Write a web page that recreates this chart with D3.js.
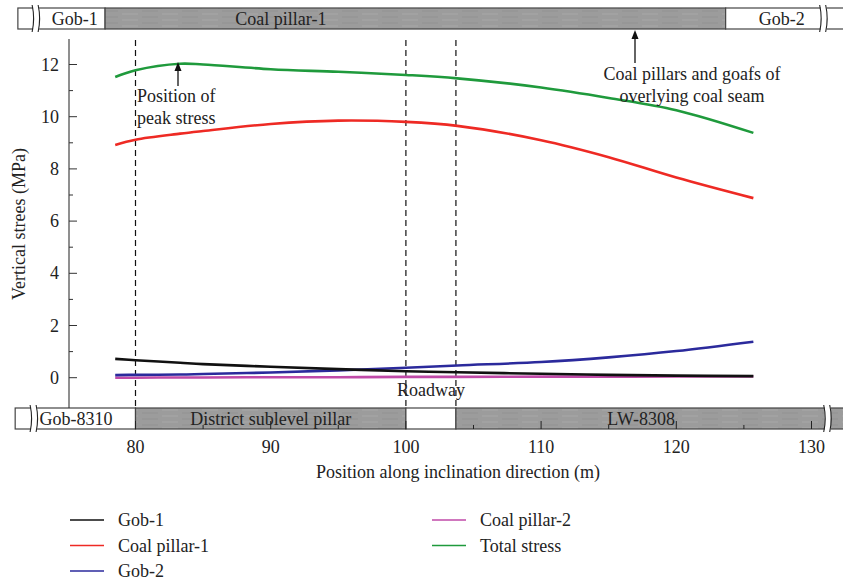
<!DOCTYPE html>
<html>
<head>
<meta charset="utf-8">
<script src="https://cdn.jsdelivr.net/npm/d3@7"></script>
<style>
  body { margin: 0; background: #fff; }
  text { font-family: "Liberation Serif", "DejaVu Serif", serif; fill: #222; }
</style>
</head>
<body>
<div id="chart"></div>
<script>
// positions along inclination direction (m)
const positions = [78.5, 80, 83.3, 85, 90, 95, 100, 103.8, 110, 115, 120, 125.7];

const gob1        = [0.72, 0.67, 0.57, 0.52, 0.42, 0.33, 0.25, 0.21, 0.15, 0.11, 0.08, 0.06];
const coalPillar1 = [8.92, 9.12, 9.35, 9.45, 9.72, 9.85, 9.8, 9.65, 9.1, 8.45, 7.67, 6.88];
const gob2        = [0.10, 0.11, 0.12, 0.14, 0.20, 0.28, 0.38, 0.47, 0.60, 0.78, 1.02, 1.38];
const coalPillar2 = [0.00, 0.00, 0.01, 0.01, 0.02, 0.02, 0.03, 0.03, 0.04, 0.04, 0.05, 0.05];
const totalStress = [11.52, 11.78, 12.03, 12.0, 11.82, 11.72, 11.6, 11.47, 11.12, 10.72, 10.25, 9.38];

const seriesNames = ["Gob-1", "Coal pillar-1", "Gob-2", "Coal pillar-2", "Total stress"];
const seriesColors = ["#111111", "#ee2a24", "#2b2a9c", "#c04aa8", "#1f9a3c"];
const seriesValues = [gob1, coalPillar1, gob2, coalPillar2, totalStress];

const yTicks = [0, 2, 4, 6, 8, 10, 12];
const xTicks = [80, 90, 100, 110, 120, 130];

// strips: [from m, to m, fill]
const topBlocks = [[71.3, 77.75, "white"], [77.75, 123.65, "gray"], [123.65, 132.8, "white"]];
const bottomBlocks = [[71.1, 80, "white"], [80, 100, "gray"], [100, 103.7, "white"], [103.7, 132.8, "gray"]];
// strip labels: [text, position m, anchor]
const topLabels = [["Gob-1", 75.5, "middle"], ["Coal pillar-1", 90.75, "middle"], ["Gob-2", 127.8, "middle"]];
const bottomLabels = [["Gob-8310", 72.9, "start"], ["District sublevel pillar", 90, "middle"], ["LW-8308", 117.4, "middle"]];
const topBreaks = [72.65, 130.9];
const bottomBreaks = [72.5, 131.2];
const dashedAt = [80, 100, 103.7];

const W = 843, H = 584;
const svg = d3.select("#chart").append("svg").attr("width", W).attr("height", H);

const x = d3.scaleLinear().domain([80, 130]).range([135.5, 811.5]);
const y = d3.scaleLinear().domain([0, 12]).range([377.7, 64.5]);
const axisX0 = 69;
const fs = 18;

// texture for grey pillar blocks
const defs = svg.append("defs");
const pat = defs.append("pattern").attr("id", "coal").attr("patternUnits", "userSpaceOnUse")
  .attr("width", 40).attr("height", 6);
pat.append("rect").attr("width", 40).attr("height", 6).attr("fill", "#9c9c9c");
pat.append("line").attr("x1", 2).attr("x2", 18).attr("y1", 2).attr("y2", 2).attr("stroke", "#a8a8a8").attr("stroke-width", 1);
pat.append("line").attr("x1", 22).attr("x2", 38).attr("y1", 5).attr("y2", 5).attr("stroke", "#939393").attr("stroke-width", 1);

function drawStrip(blocks, labels, breaks, y0, h) {
  const g = svg.append("g");
  g.selectAll("rect").data(blocks).enter().append("rect")
    .attr("x", d => x(d[0]))
    .attr("y", y0)
    .attr("width", d => x(d[1]) - x(d[0]))
    .attr("height", h)
    .attr("fill", d => d[2] === "gray" ? "url(#coal)" : "#fff")
    .attr("stroke", "#444")
    .attr("stroke-width", 1.2);
  // break marks: white gap between two wavy lines
  breaks.forEach(b => {
    const xp = x(b);
    g.append("rect").attr("x", xp - 3).attr("y", y0 - 1).attr("width", 6).attr("height", h + 2).attr("fill", "#fff");
    [-3, 3].forEach(off => {
      g.append("path")
        .attr("d", `M${xp + off - 1},${y0 - 3} q3,${h / 2 + 3} 0,${h + 6}`)
        .attr("fill", "none").attr("stroke", "#222").attr("stroke-width", 1.1);
    });
  });
  g.selectAll("text").data(labels).enter().append("text")
    .attr("x", d => x(d[1]))
    .attr("y", y0 + h / 2 + 6)
    .attr("text-anchor", d => d[2])
    .attr("font-size", fs)
    .text(d => d[0]);
}

drawStrip(topBlocks, topLabels, topBreaks, 8, 21);
drawStrip(bottomBlocks, bottomLabels, bottomBreaks, 408, 21);

// dashed guide lines
svg.append("g").selectAll("line").data(dashedAt).enter().append("line")
  .attr("x1", d => x(d)).attr("x2", d => x(d))
  .attr("y1", 40).attr("y2", 407)
  .attr("stroke", "#111").attr("stroke-width", 1.2)
  .attr("stroke-dasharray", "6,4");

// y axis, ticks inward
const yAxisG = svg.append("g").attr("transform", `translate(${axisX0},0)`);
yAxisG.append("line").attr("x1", 0).attr("x2", 0).attr("y1", 39).attr("y2", 408)
  .attr("stroke", "#333").attr("stroke-width", 1.1);
const yMinor = d3.range(1, 13, 2);
yAxisG.selectAll(".minor").data(yMinor).enter().append("line")
  .attr("x1", 0).attr("x2", 4).attr("y1", d => y(d)).attr("y2", d => y(d))
  .attr("stroke", "#333");
yAxisG.selectAll(".major").data(yTicks).enter().append("line")
  .attr("x1", 0).attr("x2", 8).attr("y1", d => y(d)).attr("y2", d => y(d))
  .attr("stroke", "#333");
yAxisG.selectAll("text").data(yTicks).enter().append("text")
  .attr("x", -10).attr("y", d => y(d) + 6)
  .attr("text-anchor", "end").attr("font-size", fs)
  .text(d => d);

svg.append("text")
  .attr("transform", "translate(25,224) rotate(-90)")
  .attr("text-anchor", "middle").attr("font-size", fs)
  .text("Vertical strees (MPa)");

// x axis on bottom edge of lower strip, ticks inward
const xAxisG = svg.append("g").attr("transform", "translate(0,429)");
const xMinor = d3.range(85, 131, 10);
xAxisG.selectAll(".minor").data(xMinor).enter().append("line")
  .attr("x1", d => x(d)).attr("x2", d => x(d)).attr("y1", 0).attr("y2", -4)
  .attr("stroke", "#222");
xAxisG.selectAll(".major").data(xTicks).enter().append("line")
  .attr("x1", d => x(d)).attr("x2", d => x(d)).attr("y1", 0).attr("y2", -8)
  .attr("stroke", "#222");
xAxisG.selectAll("text").data(xTicks).enter().append("text")
  .attr("x", d => x(d)).attr("y", 24)
  .attr("text-anchor", "middle").attr("font-size", fs)
  .text(d => d);

svg.append("text")
  .attr("x", 458).attr("y", 478)
  .attr("text-anchor", "middle").attr("font-size", fs)
  .text("Position along inclination direction (m)");

// series lines
const line = d3.line()
  .x(d => x(d[0]))
  .y(d => y(d[1]))
  .curve(d3.curveCatmullRom.alpha(0.5));

const series = seriesNames.map((name, i) => ({
  name, color: seriesColors[i],
  points: positions.map((p, j) => [p, seriesValues[i][j]])
}));

// draw order so pillar-2 sits below blue and black
const drawOrder = [3, 2, 0, 1, 4];
svg.append("g").selectAll("path").data(drawOrder.map(i => series[i])).enter().append("path")
  .attr("d", d => line(d.points))
  .attr("fill", "none")
  .attr("stroke", d => d.color)
  .attr("stroke-width", 2.6);

// annotations
function arrow(xp, yFrom, yTo) {
  svg.append("line").attr("x1", xp).attr("x2", xp).attr("y1", yFrom).attr("y2", yTo + 6)
    .attr("stroke", "#111").attr("stroke-width", 1.3);
  svg.append("path").attr("d", `M${xp},${yTo} l-3.5,9 l7,0 z`).attr("fill", "#111");
}
arrow(178, 86, 62);
svg.append("text").attr("x", 137).attr("y", 102).attr("font-size", fs).text("Position of");
svg.append("text").attr("x", 137).attr("y", 124).attr("font-size", fs).text("peak stress");

arrow(635, 63, 30);
svg.append("text").attr("x", 692).attr("y", 80).attr("text-anchor", "middle").attr("font-size", fs).text("Coal pillars and goafs of");
svg.append("text").attr("x", 692).attr("y", 102).attr("text-anchor", "middle").attr("font-size", fs).text("overlying coal seam");

svg.append("text").attr("x", 431).attr("y", 396).attr("text-anchor", "middle").attr("font-size", fs).text("Roadway");

// legend
const legendPos = [[70, 520], [70, 545.5], [70, 571], [432, 520], [432, 545.5]];
const legend = svg.append("g").selectAll("g").data(series).enter().append("g")
  .attr("transform", (d, i) => `translate(${legendPos[i][0]},${legendPos[i][1]})`);
legend.append("line").attr("x1", 0).attr("x2", 34).attr("y1", 0).attr("y2", 0)
  .attr("stroke", d => d.color).attr("stroke-width", 1.6);
legend.append("text").attr("x", 48).attr("y", 6).attr("font-size", fs).text(d => d.name);
</script>
</body>
</html>
